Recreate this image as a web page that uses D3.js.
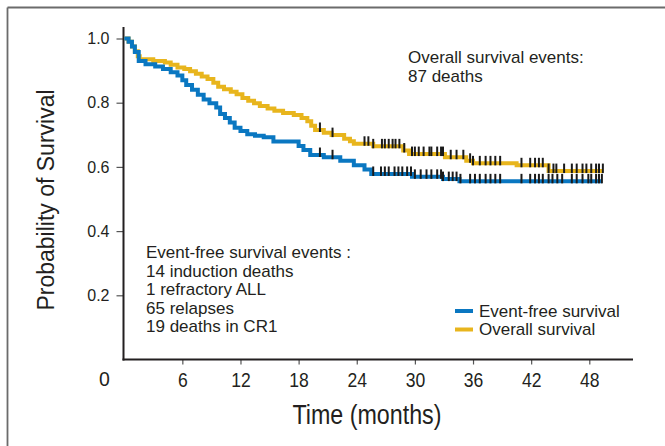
<!DOCTYPE html>
<html><head><meta charset="utf-8">
<script src="https://cdn.jsdelivr.net/npm/d3@7"></script>
<style>
html,body{margin:0;padding:0;background:#fff;}
svg{display:block;}
</style></head>
<body>
<svg id="chart" width="665" height="446"></svg>
<script>
// ---- data ----
const xTicks = [6, 12, 18, 24, 30, 36, 42, 48];
const yTicks = [0.2, 0.4, 0.6, 0.8, 1.0];

const osTimes = [0, 0.45, 0.8, 1.1, 1.4, 1.6, 3.0, 4.2, 4.8, 5.5, 6.2, 6.8, 7.4, 8.0, 8.6, 9.2, 9.7, 10.3, 11.0, 11.6, 12.2, 12.8, 13.4, 14.0, 14.8, 15.5, 16.4, 17.5, 18.3, 18.9, 19.3, 19.7, 20.6, 21.4, 22.7, 23.3, 23.7, 25.7, 28.8, 29.4, 33.1, 35.3, 36.0, 40.5, 43.8, 49.4];
const osSurv  = [1.0, 0.99, 0.975, 0.96, 0.945, 0.935, 0.93, 0.925, 0.918, 0.91, 0.905, 0.898, 0.89, 0.882, 0.874, 0.862, 0.85, 0.842, 0.834, 0.826, 0.815, 0.806, 0.798, 0.79, 0.782, 0.775, 0.768, 0.762, 0.752, 0.742, 0.728, 0.715, 0.706, 0.699, 0.688, 0.68, 0.672, 0.664, 0.651, 0.64, 0.63, 0.619, 0.611, 0.605, 0.587, 0.587];

const efsTimes = [0, 0.45, 0.8, 1.1, 1.5, 2.2, 3.2, 4.0, 4.8, 5.5, 6.0, 6.4, 7.0, 7.6, 8.2, 8.8, 9.5, 9.9, 10.4, 10.9, 11.4, 12.0, 12.7, 13.5, 14.4, 15.4, 18.0, 18.5, 19.2, 20.6, 22.3, 23.7, 24.8, 25.5, 29.7, 32.9, 34.6, 49.3];
const efsSurv  = [1.0, 0.99, 0.975, 0.958, 0.93, 0.92, 0.913, 0.905, 0.895, 0.885, 0.87, 0.855, 0.84, 0.825, 0.81, 0.798, 0.785, 0.765, 0.752, 0.738, 0.722, 0.712, 0.702, 0.697, 0.692, 0.679, 0.665, 0.653, 0.637, 0.63, 0.619, 0.605, 0.592, 0.578, 0.569, 0.562, 0.555, 0.555];

const osCensor = [20.2, 21.5, 24.8, 25.2, 25.7, 26.6, 26.9, 27.3, 27.7, 28.0, 28.4, 28.9, 29.7, 30.0, 30.4, 30.9, 31.5, 31.7, 32.3, 32.7, 32.9, 33.7, 34.3, 35.0, 35.7, 36.0, 36.7, 37.3, 37.8, 38.3, 38.8, 41.0, 41.9, 42.4, 42.8, 43.2, 43.8, 44.3, 44.6, 45.4, 46.2, 46.7, 47.3, 47.7, 48.2, 48.7, 49.0, 49.4];
const efsCensor = [20.2, 21.5, 25.7, 26.5, 26.9, 27.3, 27.9, 28.3, 28.7, 29.2, 29.6, 30.0, 30.6, 31.2, 31.7, 32.3, 32.7, 32.9, 33.5, 33.9, 34.3, 34.7, 35.7, 36.2, 36.7, 37.3, 37.8, 38.3, 38.8, 41.0, 41.9, 42.4, 42.8, 43.2, 43.8, 44.2, 44.7, 45.2, 46.2, 46.7, 47.3, 47.9, 48.2, 48.7, 49.0, 49.3];

const osNote = ["Overall survival events:", "87 deaths"];
const efsNote = ["Event-free survival events :", "14 induction deaths", "1 refractory ALL", "65 relapses", "19 deaths in CR1"];
const legendLabels = ["Event-free survival", "Overall survival"];

// ---- drawing ----
const BLUE = "#0a77c1", GOLD = "#e8b51d";
const svg = d3.select("#chart");
const x = d3.scaleLinear().domain([0, 48]).range([124.2, 589.3]);
const y = d3.scaleLinear().domain([0, 1]).range([359.5, 38.5]);
const sans = "'Liberation Sans', Arial, Helvetica, sans-serif";

// frame
svg.append("line").attr("x1", 7.5).attr("x2", 665).attr("y1", 7.5).attr("y2", 7.5)
  .attr("stroke", "#6b6b6b").attr("stroke-width", 1.8);
svg.append("line").attr("x1", 7.5).attr("x2", 7.5).attr("y1", 7.5).attr("y2", 446)
  .attr("stroke", "#6b6b6b").attr("stroke-width", 1.8);

// y axis
const yAxis = d3.axisLeft(y).tickValues(yTicks).tickFormat(d3.format(".1f")).tickSize(7).tickPadding(7).tickSizeOuter(0);
const gy = svg.append("g").attr("transform", "translate(123.5,0)").call(yAxis);
gy.select(".domain").remove();
gy.selectAll(".tick line").attr("stroke", "#555").attr("stroke-width", 1.2);
gy.selectAll(".tick text").attr("font-family", sans).attr("font-size", 16).attr("fill", "#231f20");
svg.append("line").attr("x1", 123.5).attr("x2", 123.5).attr("y1", 27).attr("y2", 360.5)
  .attr("stroke", "#231f20").attr("stroke-width", 2);

// x axis
const xAxis = d3.axisBottom(x).tickValues(xTicks).tickFormat(d3.format("d")).tickSize(5).tickPadding(9).tickSizeOuter(0);
const gx = svg.append("g").attr("transform", "translate(0,359.5)").call(xAxis);
gx.select(".domain").remove();
gx.selectAll(".tick line").attr("stroke", "#555").attr("stroke-width", 1.2);
gx.selectAll(".tick text").attr("font-family", sans).attr("font-size", 19.5).attr("fill", "#231f20")
  .attr("transform", "scale(0.9,1)");
svg.append("text").attr("x", 104.5).attr("y", 385.5).attr("text-anchor", "middle")
  .attr("font-family", sans).attr("font-size", 19.5).attr("fill", "#231f20").text("0");
svg.append("line").attr("x1", 122.5).attr("x2", 633).attr("y1", 359.5).attr("y2", 359.5)
  .attr("stroke", "#231f20").attr("stroke-width", 2);

// axis titles
svg.append("text").attr("x", 367).attr("y", 424).attr("text-anchor", "middle")
  .attr("font-family", sans).attr("font-size", 27).attr("fill", "#231f20")
  .attr("textLength", 149).attr("lengthAdjust", "spacingAndGlyphs").text("Time (months)");
svg.append("text").attr("transform", "translate(54,200) rotate(-90)").attr("text-anchor", "middle")
  .attr("font-family", sans).attr("font-size", 23).attr("fill", "#231f20").text("Probability of Survival");

// curves
function steps(times, surv) { return times.map((t, i) => [t, surv[i]]); }
function valueAt(times, surv, t) { let v = surv[0]; for (let i = 0; i < times.length; i++) { if (times[i] <= t) v = surv[i]; } return v; }
const line = d3.line().x(d => x(d[0])).y(d => y(d[1])).curve(d3.curveStepAfter);

svg.append("path").datum(steps(osTimes, osSurv)).attr("d", line)
  .attr("fill", "none").attr("stroke", GOLD).attr("stroke-width", 4);
svg.append("path").datum(steps(efsTimes, efsSurv)).attr("d", line)
  .attr("fill", "none").attr("stroke", BLUE).attr("stroke-width", 4);

function censor(times, surv, cens) {
  svg.append("g").selectAll("line").data(cens).join("line")
    .attr("x1", d => x(d)).attr("x2", d => x(d))
    .attr("y1", d => y(valueAt(times, surv, d)) - 7.5)
    .attr("y2", d => y(valueAt(times, surv, d)) + 2)
    .attr("stroke", "#1a1a1a").attr("stroke-width", 2);
}
censor(osTimes, osSurv, osCensor);
censor(efsTimes, efsSurv, efsCensor);

// annotations
const t1 = svg.append("text").attr("font-family", sans).attr("font-size", 17).attr("fill", "#231f20");
osNote.forEach((s, i) => t1.append("tspan").attr("x", 408).attr("y", 63 + i * 19).text(s));
const t2 = svg.append("text").attr("font-family", sans).attr("font-size", 17).attr("fill", "#231f20");
efsNote.forEach((s, i) => t2.append("tspan").attr("x", 146).attr("y", 258 + i * 18.5).text(s));

// legend
const legColors = [BLUE, GOLD];
legendLabels.forEach((s, i) => {
  const cy = 311 + i * 18.5;
  svg.append("line").attr("x1", 455).attr("x2", 473).attr("y1", cy).attr("y2", cy)
    .attr("stroke", legColors[i]).attr("stroke-width", 4);
  svg.append("text").attr("x", 479).attr("y", cy + 5.5).attr("font-family", sans).attr("font-size", 17)
    .attr("fill", "#231f20").text(s);
});
</script>
</body></html>
